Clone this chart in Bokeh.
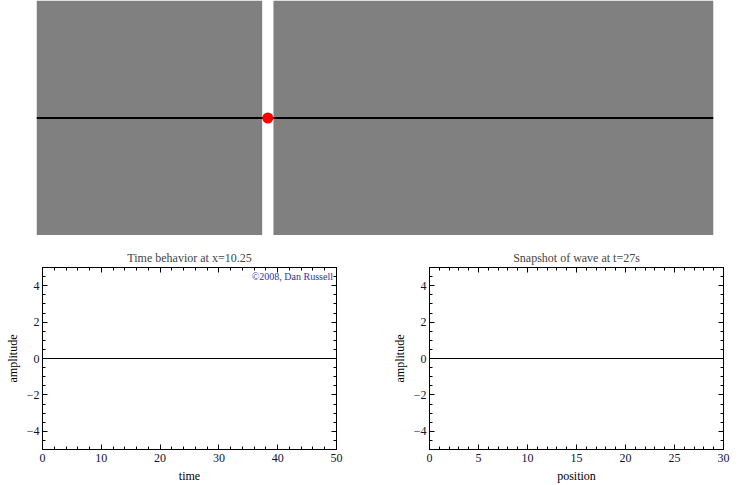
from bokeh.plotting import figure
from bokeh.layouts import column, row
from bokeh.models import Range1d, LinearAxis, FixedTicker, Label
from bokeh.embed import file_html
from bokeh.resources import INLINE

# ---- data ----
# top panel: string (medium) segments and the observed point
seg_left = [0, 10.5]
seg_right = [10, 30]
string_pos = [0, 30]
string_disp = [0, 0]
probe_x = [10.25]
probe_y = [0]

# time behavior at x = 10.25
time_vals = [0, 50]
time_amp = [0, 0]
# snapshot at t = 27 s
pos_vals = [0, 30]
pos_amp = [0, 0]

time_ticks = [0, 10, 20, 30, 40, 50]
time_minor = [i * 2 for i in range(26)]
pos_ticks = [0, 5, 10, 15, 20, 25, 30]
pos_minor = list(range(31))
amp_ticks = [-4, -2, 0, 2, 4]
amp_minor = [i * 0.5 - 5 for i in range(21)]
amp_labels = {-4: "\u22124", -2: "\u22122", 0: "0", 2: "2", 4: "4"}

FONT = "Liberation Serif"

# ---- top panel ----
top = figure(width=743, height=235, output_backend="svg", toolbar_location=None,
             x_range=Range1d(0, 30), y_range=Range1d(-5, 5),
             min_border_left=36, min_border_right=30, min_border_top=0, min_border_bottom=0)
top.axis.visible = False
top.grid.visible = False
top.outline_line_color = None
top.quad(left=seg_left, right=seg_right, bottom=-5, top=5, fill_color="#808080", line_color=None)
top.line(string_pos, string_disp, line_color="black", line_width=2.2)
top.scatter(probe_x, probe_y, size=11, fill_color="#ff0000", line_color=None)


def make_panel(title, xlabel, xr, xt, xm, xs, ys, width, mbl, mbr):
    p = figure(width=width, height=250, output_backend="svg", toolbar_location=None,
               x_range=Range1d(*xr), y_range=Range1d(-5, 5),
               min_border_left=mbl, min_border_right=mbr, min_border_top=32, min_border_bottom=36,
               title=title)
    p.title.text_font = FONT
    p.title.text_font_style = "normal"
    p.title.text_font_size = "12px"
    p.title.align = "center"
    p.title.standoff = 6
    p.grid.visible = False
    p.outline_line_color = "black"
    p.outline_line_width = 1
    p.line(xs, ys, line_color="black", line_width=1.2)

    p.xaxis.axis_label = xlabel
    p.yaxis.axis_label = "amplitude"
    for ax in p.xaxis:
        ax.ticker = FixedTicker(ticks=xt, minor_ticks=xm)
    for ax in p.yaxis:
        ax.ticker = FixedTicker(ticks=amp_ticks, minor_ticks=amp_minor)
        ax.major_label_overrides = amp_labels
    extra_r = LinearAxis(ticker=FixedTicker(ticks=amp_ticks, minor_ticks=amp_minor))
    extra_t = LinearAxis(ticker=FixedTicker(ticks=xt, minor_ticks=xm))
    p.add_layout(extra_r, "right")
    p.add_layout(extra_t, "above")
    for ax in p.axis:
        ax.major_tick_in = 5
        ax.major_tick_out = 0
        ax.minor_tick_in = 3
        ax.minor_tick_out = 0
        ax.axis_line_color = "black"
        ax.major_tick_line_color = "black"
        ax.minor_tick_line_color = "black"
        ax.major_label_text_font = FONT
        ax.axis_label_text_font = FONT
        ax.axis_label_text_font_style = "normal"
        ax.axis_label_text_font_size = "12px"
        ax.axis_label_text_color = "black"
        ax.major_label_text_color = "#111133"
        ax.major_label_text_font_size = "12px"
    for ax in p.xaxis:
        ax.major_label_standoff = 4
        ax.axis_label_standoff = 4
    for ax in p.yaxis:
        ax.major_label_standoff = 3
        ax.axis_label_standoff = 4
    for ax in (extra_r, extra_t):
        ax.major_label_text_color = None
        ax.major_label_text_font_size = "1px"
        ax.major_label_standoff = 0
    return p


left = make_panel("Time behavior at x=10.25", "time", (0, 50), time_ticks, time_minor,
                  time_vals, time_amp, 380, 42, 44)
left.add_layout(Label(x=49.4, y=4.5, text="\u00a92008, Dan Russell", text_font=FONT,
                      text_font_size="10px", text_color="#3030b0", text_align="right",
                      text_baseline="middle"))

right = make_panel("Snapshot of wave at t=27s", "position", (0, 30), pos_ticks, pos_minor,
                   pos_vals, pos_amp, 363, 49, 20)

layout = column(top, row(left, right))
open("out.html", "w").write(file_html(layout, INLINE))
